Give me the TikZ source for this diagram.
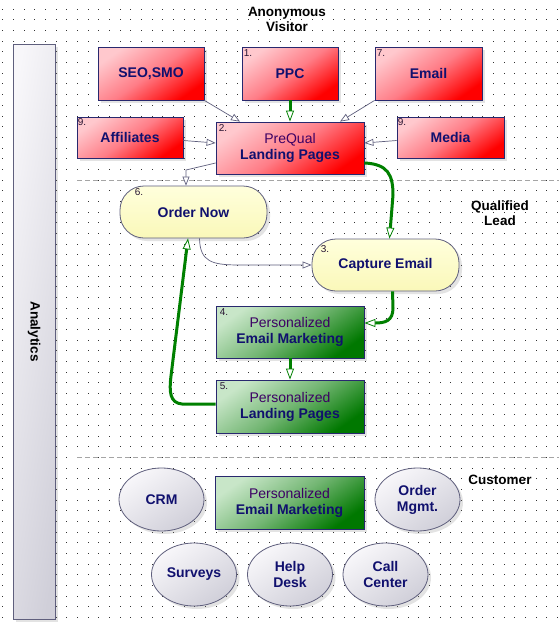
\documentclass[tikz,border=0pt]{standalone}
\usepackage{fontspec}
\setmainfont{Liberation Sans}
\usepackage{xcolor}
\usetikzlibrary{arrows.meta,shadows,shapes.geometric}

\definecolor{navytxt}{RGB}{16,16,110}
\definecolor{purptxt}{RGB}{60,0,100}
\definecolor{numtxt}{RGB}{40,20,50}
\definecolor{edgecol}{RGB}{40,40,110}
\definecolor{linecol}{RGB}{95,95,125}
\definecolor{flowgreen}{RGB}{0,128,0}
\definecolor{redlight}{RGB}{255,200,205}
\definecolor{redmid}{RGB}{255,125,135}
\definecolor{reddark}{RGB}{255,0,0}
\definecolor{greenlight}{RGB}{200,230,200}
\definecolor{greenmid}{RGB}{115,182,115}
\definecolor{greendark}{RGB}{0,120,0}
\definecolor{yellowlight}{RGB}{255,255,220}
\definecolor{yellowdark}{RGB}{250,248,185}
\definecolor{greylight}{RGB}{248,247,250}
\definecolor{greydark}{RGB}{208,207,217}
\definecolor{dotcol}{RGB}{50,50,50}
\definecolor{sepcol}{RGB}{165,165,165}

\newcommand{\softtxt}[1]{{\mdseries\color{purptxt}#1}}

\tikzset{
  box/.style={draw=edgecol, line width=0.8pt, inner sep=0pt, align=center, text=navytxt,
    font=\fontsize{14}{16}\selectfont\bfseries,
    drop shadow={shadow xshift=3pt, shadow yshift=-3pt, opacity=0.22}},
  redbox/.style={box, top color=redlight, bottom color=reddark, middle color=redmid, shading angle=35},
  greenbox/.style={box, top color=greenlight, bottom color=greendark, middle color=greenmid, shading angle=35},
  pill/.style={box, draw=linecol, rounded corners=24pt, top color=yellowlight, bottom color=yellowdark,
    minimum width=147pt, minimum height=52pt},
  oval/.style={box, ellipse, draw=linecol, top color=greylight, bottom color=greydark, shading angle=35,
    minimum width=85pt, minimum height=63pt},
  numlab/.style={anchor=north west, inner sep=0pt, text=numtxt, font=\fontsize{10}{11}\selectfont},
  stage/.style={align=center, font=\fontsize{13.5}{15}\selectfont\bfseries},
  flow/.style={draw=linecol, line width=0.7pt, -{Triangle[fill=white, length=9pt, width=7pt]}},
  greenflow/.style={draw=flowgreen, line width=3pt,
    -{Triangle[fill=white, length=11pt, width=8pt, line width=0.8pt]}},
  sepline/.style={draw=sepcol, line width=1pt, dash pattern=on 5pt off 3pt}
}

\begin{document}
\begin{tikzpicture}[x=1pt, y=-1pt]
  \fill[white] (0,0) rectangle (559,627);
  \useasboundingbox (0,0) rectangle (559,627);
  \foreach \i in {0,...,52} {
    \foreach \j in {0,...,58} {
      \fill[dotcol] (2.2+\i*10.67, 8.8+\j*10.67) rectangle +(1pt,-1pt);
    }
  }
  \draw[sepline] (77,180) -- (559,180);
  \draw[sepline] (77,457) -- (559,457);

  \node[box, draw=linecol, top color=greylight, bottom color=greydark, shading angle=80,
    minimum width=42pt, minimum height=575pt] (analytics) at (34,331.5) {};
  \node[stage, rotate=-90] (anlab) at (analytics.center) {Analytics};

  \node[stage] (visitor) at (287,19.5) {Anonymous\\Visitor};
  \node[stage] (lead) at (500,213) {Qualified\\Lead};
  \node[stage] (customer) at (500,480) {Customer};

  \node[redbox, minimum width=106pt, minimum height=53pt] (seo) at (151,73.5) {SEO,SMO};
  \node[redbox, minimum width=96pt, minimum height=53pt] (ppc) at (290,73.5) {PPC};
  \node[redbox, minimum width=107pt, minimum height=53pt] (email) at (428.5,73.5) {Email};
  \node[redbox, minimum width=106pt, minimum height=41pt] (affiliates) at (130,137.5) {Affiliates};
  \node[redbox, minimum width=148pt, minimum height=52pt] (prequal) at (290,148)
    {\softtxt{PreQual}\\Landing Pages};
  \node[redbox, minimum width=107pt, minimum height=41pt] (media) at (450.5,137.5) {Media};

  \node[pill] (order) at (193.5,212) {Order Now};
  \node[pill] (capture) at (385.5,265) {Capture Email};
  \node[greenbox, minimum width=148pt, minimum height=52pt] (mailing) at (290,332)
    {\softtxt{Personalized}\\Email Marketing};
  \node[greenbox, minimum width=148pt, minimum height=53pt] (landing) at (290,406.5)
    {\softtxt{Personalized}\\Landing Pages};

  \node[oval] (crm) at (161.5,499.5) {CRM};
  \node[greenbox, minimum width=149pt, minimum height=53pt] (custmail) at (289.5,502.5)
    {\softtxt{Personalized}\\Email Marketing};
  \node[oval] (ordermgmt) at (417.5,499.5) {Order\\Mgmt.};
  \node[oval] (surveys) at (194,574.5) {Surveys};
  \node[oval] (helpdesk) at (290,574.5) {Help\\Desk};
  \node[oval] (callcenter) at (385.5,574.5) {Call\\Center};

  \node[numlab] (n1) at ([shift={(2pt,-3pt)}]ppc.north west) {1.};
  \node[numlab] (n7) at ([shift={(2pt,-3pt)}]email.north west) {7.};
  \node[numlab] (n9a) at ([shift={(1pt,-2pt)}]affiliates.north west) {9.};
  \node[numlab] (n2) at ([shift={(3pt,-3pt)}]prequal.north west) {2.};
  \node[numlab] (n9b) at ([shift={(1pt,-2pt)}]media.north west) {9.};
  \node[numlab] (n6) at ([shift={(15pt,-3pt)}]order.north west) {6.};
  \node[numlab] (n3) at ([shift={(9pt,-7pt)}]capture.north west) {3.};
  \node[numlab] (n4) at ([shift={(4pt,-3pt)}]mailing.north west) {4.};
  \node[numlab] (n5) at ([shift={(4pt,-3pt)}]landing.north west) {5.};

  \draw[flow] (seo.south east) -- ([xshift=-50pt]prequal.north);
  \draw[flow] (email.south west) -- ([xshift=50pt]prequal.north);
  \draw[flow] ([yshift=-3pt]affiliates.east) -- ([yshift=5pt]prequal.west);
  \draw[flow] ([yshift=-3pt]media.west) -- ([yshift=5pt]prequal.east);
  \draw[flow] ([yshift=-15pt]prequal.west) -- (186,170) -- ([xshift=-7.5pt]order.north);
  \draw[flow] ([xshift=6pt]order.south) .. controls (200,262) and (212,265) .. (240,265) -- (capture.west);

  \draw[greenflow] (ppc.south) -- (prequal.north);
  \draw[greenflow] ([yshift=-15pt]prequal.east) .. controls (388,164) and (393,175) .. (393,195)
    -- ([xshift=4pt]capture.north);
  \draw[greenflow] ([xshift=7pt]capture.south) -- (393,308) .. controls (393,321) and (385,323) .. ([yshift=9pt]mailing.east);
  \draw[greenflow] (mailing.south) -- (landing.north);
  \draw[greenflow] ([yshift=2.5pt]landing.west) -- (182,404) .. controls (170,403) and (169,392) .. (171,376)
    -- ([xshift=-5.5pt]order.south);
\end{tikzpicture}
\end{document}
